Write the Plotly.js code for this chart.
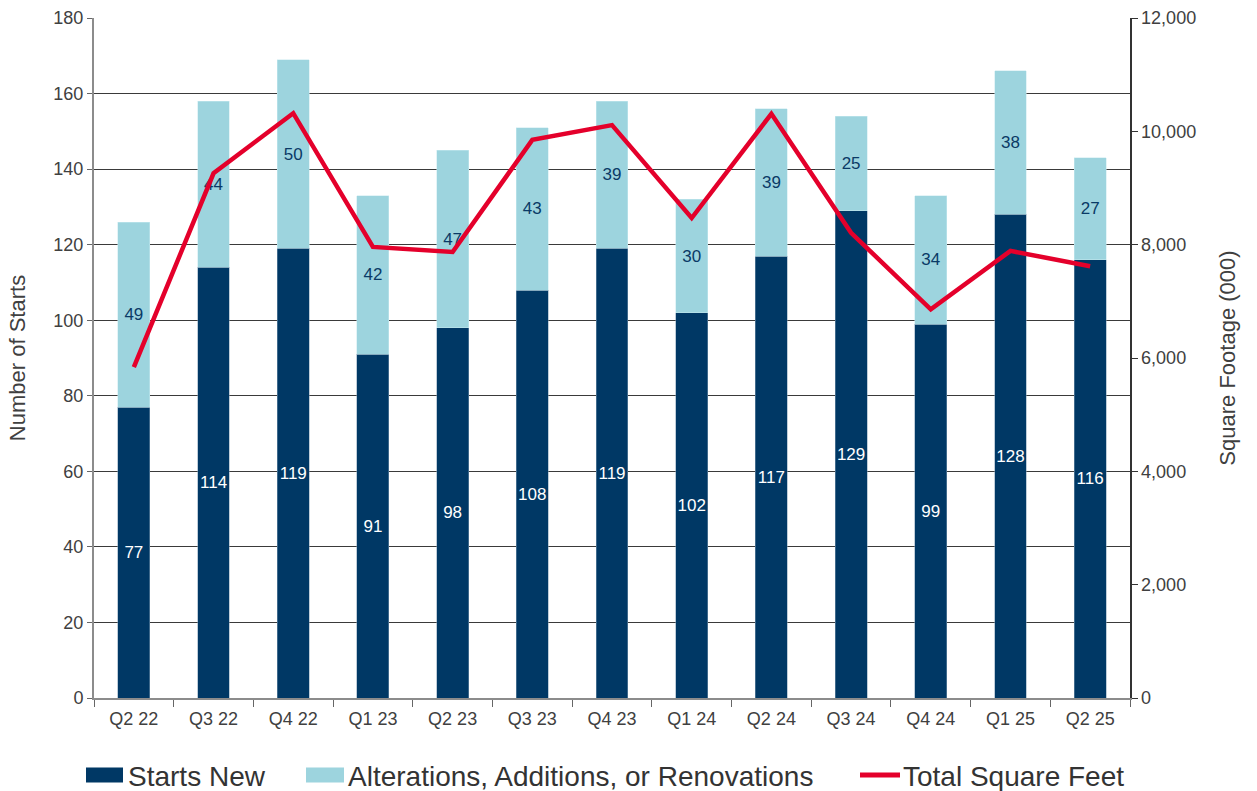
<!DOCTYPE html>
<html>
<head>
<meta charset="utf-8">
<script src="https://cdn.plot.ly/plotly-3.0.1.min.js"></script>
<style>html,body{margin:0;padding:0;background:#fff;}#chart{width:1257px;height:791px;}</style>
</head>
<body>
<div id="chart"></div>
<script>
const quarters = ["Q2 22","Q3 22","Q4 22","Q1 23","Q2 23","Q3 23","Q4 23","Q1 24","Q2 24","Q3 24","Q4 24","Q1 25","Q2 25"];
const startsNew = [77,114,119,91,98,108,119,102,117,129,99,128,116];
const alterations = [49,44,50,42,47,43,39,30,39,25,34,38,27];
const totalSqFt = [5840,9260,10320,7960,7870,9850,10110,8470,10310,8210,6860,7890,7620];
const seriesNames = ["Starts New", "Alterations, Additions, or Renovations", "Total Square Feet"];
const seriesColors = ["#003865", "#9dd4de", "#e4002b"];

const font = "Liberation Sans, Arial, sans-serif";
const W = 1257, H = 791;
const M = {l: 94, r: 127, t: 18, b: 93};
const PW = W - M.l - M.r, PH = H - M.t - M.b;
const px = v => (v - M.l) / PW;
const py = v => (H - M.b - v) / PH;

const traces = [
  {
    type: "bar", name: seriesNames[0], x: quarters, y: startsNew,
    marker: {color: seriesColors[0], line: {color: "#7f9bb3", width: 0.5}},
    text: startsNew.map(String), textposition: "inside", insidetextanchor: "middle",
    textangle: 0, constraintext: "none",
    textfont: {color: "#ffffff", size: 17, family: font}
  },
  {
    type: "bar", name: seriesNames[1], x: quarters, y: alterations,
    marker: {color: seriesColors[1], line: {color: "#c9e9ef", width: 0.5}},
    text: alterations.map(String), textposition: "inside", insidetextanchor: "middle",
    textangle: 0, constraintext: "none",
    textfont: {color: "#0a3a66", size: 17, family: font}
  },
  {
    type: "scatter", mode: "lines", name: seriesNames[2], x: quarters, y: totalSqFt,
    yaxis: "y2", line: {color: seriesColors[2], width: 4.5}
  }
];

// custom legend (symbol boxes + labels) placed below the plot
const legendY = 775;
const legendItems = [
  {kind: "rect", x0: 86, x1: 123, tx: 126},
  {kind: "rect", x0: 306, x1: 344, tx: 346},
  {kind: "line", x0: 860, x1: 900, tx: 901}
];
const shapes = [], annotations = [];
legendItems.forEach((it, i) => {
  if (it.kind === "rect") {
    shapes.push({type: "rect", xref: "paper", yref: "paper",
      x0: px(it.x0), x1: px(it.x1), y0: py(legendY - 7.5), y1: py(legendY + 7.5),
      fillcolor: seriesColors[i], line: {width: 0}});
  } else {
    shapes.push({type: "line", xref: "paper", yref: "paper",
      x0: px(it.x0), x1: px(it.x1), y0: py(legendY), y1: py(legendY),
      line: {color: seriesColors[i], width: 5}});
  }
  annotations.push({xref: "paper", yref: "paper", x: px(it.tx), y: py(legendY + 1),
    xanchor: "left", yanchor: "middle", showarrow: false, text: seriesNames[i],
    font: {size: 28, color: "#333333", family: font}});
});

const layout = {
  width: W, height: H,
  margin: M,
  paper_bgcolor: "#ffffff", plot_bgcolor: "#ffffff",
  barmode: "stack", bargap: 0.6,
  font: {family: font, color: "#404040", size: 18},
  showlegend: false,
  shapes: shapes, annotations: annotations,
  xaxis: {
    type: "category", showgrid: false, showline: true, linecolor: "#8c8c8c", linewidth: 2,
    ticks: "outside", tickson: "boundaries", ticklen: 7, tickcolor: "#666666",
    ticklabelstandoff: 3,
    tickfont: {size: 18, color: "#404040"}, zeroline: false
  },
  yaxis: {
    range: [0, 180], dtick: 20, showgrid: true, gridcolor: "#3a3a3a", gridwidth: 1,
    showline: true, linecolor: "#8c8c8c", linewidth: 2, ticks: "outside", ticklen: 5,
    tickcolor: "#666666", zeroline: false,
    tickfont: {size: 18, color: "#404040"},
    title: {text: "Number of Starts", font: {size: 22, color: "#404040"}, standoff: 22}
  },
  yaxis2: {
    overlaying: "y", side: "right", range: [0, 12000], dtick: 2000, tickformat: ",",
    showgrid: false, showline: true, linecolor: "#333333", linewidth: 1.5, ticks: "outside",
    ticklen: 6, tickcolor: "#333333", zeroline: false,
    tickfont: {size: 18, color: "#404040"},
    title: {text: "Square Footage (000)", font: {size: 22, color: "#404040"}, standoff: 24}
  }
};

Plotly.newPlot("chart", traces, layout, {displayModeBar: false, staticPlot: true});
</script>
</body>
</html>
